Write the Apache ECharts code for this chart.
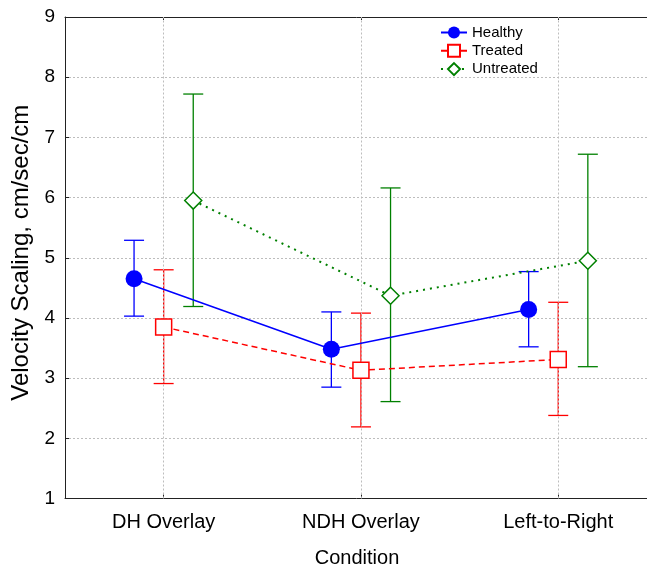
<!DOCTYPE html>
<html>
<head>
<meta charset="utf-8">
<script src="https://cdn.jsdelivr.net/npm/echarts@6/dist/echarts.min.js"></script>
<style>
html,body{margin:0;padding:0;background:#fff;}
#c{width:647px;height:568px;}
</style>
</head>
<body>
<div id="c"></div>
<script>
const categories = ['DH Overlay', 'NDH Overlay', 'Left-to-Right'];
const yTicks = [1, 2, 3, 4, 5, 6, 7, 8, 9];

const healthyMean = [4.65, 3.48, 4.14];
const healthyLow  = [4.03, 2.85, 3.52];
const healthyHigh = [5.29, 4.10, 4.77];

const treatedMean = [3.85, 3.13, 3.31];
const treatedLow  = [2.91, 2.19, 2.38];
const treatedHigh = [4.80, 4.08, 4.26];

const untreatedMean = [5.95, 4.37, 4.95];
const untreatedLow  = [4.19, 2.61, 3.19];
const untreatedHigh = [7.72, 6.16, 6.72];

const FONT = "'Liberation Sans', Arial, Helvetica, sans-serif";
const catPos = categories.map((c, i) => i + 1);

function pts(mean, off) { return mean.map((v, i) => [catPos[i] + off, v]); }
function bars(lo, hi, off) { return lo.map((v, i) => [catPos[i] + off, v, hi[i]]); }

function errRenderer(color) {
  return function (params, api) {
    const x = api.value(0), lo = api.value(1), hi = api.value(2);
    const a = api.coord([x, lo]), b = api.coord([x, hi]);
    const w = 10;
    const st = { stroke: color, lineWidth: 1.3 };
    return {
      type: 'group',
      children: [
        { type: 'line', shape: { x1: a[0], y1: a[1], x2: b[0], y2: b[1] }, style: st },
        { type: 'line', shape: { x1: a[0] - w, y1: a[1], x2: a[0] + w, y2: a[1] }, style: st },
        { type: 'line', shape: { x1: b[0] - w, y1: b[1], x2: b[0] + w, y2: b[1] }, style: st }
      ]
    };
  };
}

const BLUE = '#0000ff', RED = '#ff0000', GREEN = '#008000';
const gridDot = { color: '#bdbdbd', type: [2, 2], width: 1 };

const chart = echarts.init(document.getElementById('c'), null, { renderer: 'canvas' });
chart.setOption({
  animation: false,
  backgroundColor: '#fff',
  textStyle: { fontFamily: FONT },
  grid: { left: 65, right: -2, top: 17, bottom: 69.5, containLabel: false, outerBoundsMode: 'none' },
  legend: {
    data: ['Healthy', 'Treated', 'Untreated'],
    orient: 'vertical',
    left: 435,
    top: 20,
    itemWidth: 26,
    itemHeight: 15,
    itemGap: 3.3,
    textStyle: { fontFamily: FONT, fontSize: 15, color: '#000' },
    selectedMode: false
  },
  xAxis: [{
    type: 'value',
    min: 0.5,
    max: 3.46,
    position: 'bottom',
    axisLine: { show: true, lineStyle: { color: '#222', width: 1 } },
    axisTick: { show: true, inside: true, length: 4, customValues: catPos, lineStyle: { color: '#222' } },
    axisLabel: {
      customValues: catPos,
      formatter: v => categories[Math.round(v) - 1] || '',
      fontSize: 20, color: '#000', fontFamily: FONT, margin: 14
    },
    splitLine: { show: false },
    name: 'Condition',
    nameLocation: 'middle',
    nameGap: 50,
    nameTextStyle: { fontSize: 20, color: '#000', fontFamily: FONT }
  }, {
    type: 'value',
    min: 0.5,
    max: 3.46,
    position: 'top',
    axisLine: { show: true, lineStyle: { color: '#222', width: 1 } },
    axisTick: { show: true, inside: true, length: 3, customValues: catPos, lineStyle: { color: '#222' } },
    axisLabel: { show: false },
    splitLine: { show: false }
  }],
  yAxis: {
    type: 'value',
    min: 1,
    max: 9,
    interval: 1,
    axisLine: { show: true, lineStyle: { color: '#222', width: 1 } },
    axisTick: { show: true, inside: true, length: 4, lineStyle: { color: '#222' } },
    axisLabel: { fontSize: 19, color: '#000', fontFamily: FONT, margin: 10,
      formatter: v => (yTicks.indexOf(v) >= 0 ? String(v) : '') },
    splitLine: { show: true, lineStyle: gridDot },
    name: 'Velocity Scaling, cm/sec/cm',
    nameLocation: 'middle',
    nameGap: 31,
    nameTextStyle: { fontSize: 24, color: '#000', fontFamily: FONT, padding: [0, 0, 0, 10] }
  },
  series: [
    {
      name: 'gridx', type: 'line', data: [], z: 0, silent: true,
      markLine: {
        silent: true, symbol: 'none', label: { show: false },
        lineStyle: gridDot,
        data: catPos.map(p => ({ xAxis: p }))
      }
    },
    { name: 'Healthy-err', type: 'custom', z: 2, silent: true, renderItem: errRenderer(BLUE),
      data: bars(healthyLow, healthyHigh, -0.15), encode: { x: 0, y: [1, 2] } },
    { name: 'Treated-err', type: 'custom', z: 2, silent: true, renderItem: errRenderer(RED),
      data: bars(treatedLow, treatedHigh, 0), encode: { x: 0, y: [1, 2] } },
    { name: 'Untreated-err', type: 'custom', z: 2, silent: true, renderItem: errRenderer(GREEN),
      data: bars(untreatedLow, untreatedHigh, 0.15), encode: { x: 0, y: [1, 2] } },
    {
      name: 'Healthy', type: 'line', z: 5, data: pts(healthyMean, -0.15),
      symbol: 'circle', symbolSize: 17, showAllSymbol: true,
      lineStyle: { color: BLUE, width: 1.5, type: 'solid' },
      itemStyle: { color: BLUE, borderColor: BLUE, borderWidth: 0 }
    },
    {
      name: 'Treated', type: 'line', z: 5, data: pts(treatedMean, 0),
      symbol: 'rect', symbolSize: 16, showAllSymbol: true,
      lineStyle: { color: RED, width: 1.5, type: [6, 4] },
      itemStyle: { color: '#fff', borderColor: RED, borderWidth: 1.5 }
    },
    {
      name: 'Untreated', type: 'line', z: 5, data: pts(untreatedMean, 0.15),
      symbol: 'diamond', symbolSize: 17, showAllSymbol: true,
      lineStyle: { color: GREEN, width: 2, type: [2, 5] },
      itemStyle: { color: '#fff', borderColor: GREEN, borderWidth: 1.5 }
    }
  ]
});
</script>
</body>
</html>
